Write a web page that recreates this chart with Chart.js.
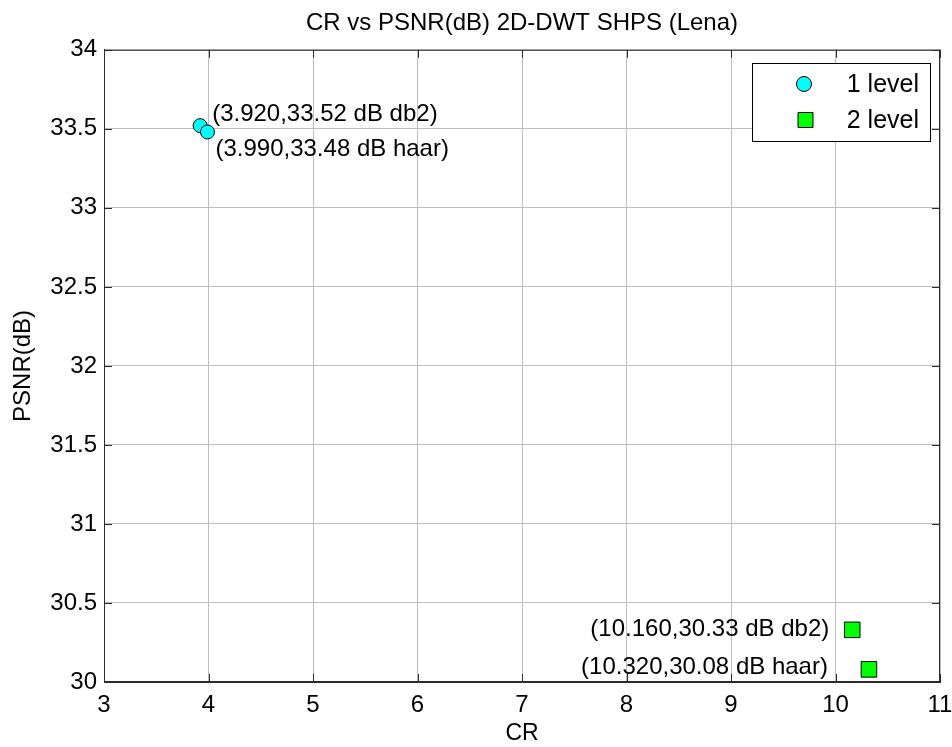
<!DOCTYPE html>
<html>
<head>
<meta charset="utf-8">
<title>CR vs PSNR</title>
<script src="https://cdn.jsdelivr.net/npm/chart.js@4/dist/chart.umd.min.js"></script>
<style>
  html, body { margin: 0; padding: 0; background: #fff; }
  #wrap { width: 952px; height: 747px; position: relative; }
</style>
</head>
<body>
<div id="wrap"><canvas id="chart"></canvas></div>
<script>
// 1-level decomposition results
const crLevel1 = [3.92, 3.99];
const psnrLevel1 = [33.52, 33.48];
const waveletLevel1 = ["db2", "haar"];

// 2-level decomposition results
const crLevel2 = [10.16, 10.32];
const psnrLevel2 = [30.33, 30.08];
const waveletLevel2 = ["db2", "haar"];

const seriesNames = ["1 level", "2 level"];
const xTicks = [3, 4, 5, 6, 7, 8, 9, 10, 11];
const yTicks = [30, 30.5, 31, 31.5, 32, 32.5, 33, 33.5, 34];

// where each point's text sits relative to its marker (pixels)
const labelPlacement = [
  [{ dx: 12, dy: -11, align: "left" }, { dx: 8, dy: 17, align: "left" }],
  [{ dx: -23, dy: 0, align: "right" }, { dx: -41, dy: -2, align: "right" }],
];

const FONT = "'Liberation Sans', Arial, sans-serif";
const toPoints = (xs, ys) => xs.map((x, i) => ({ x: x, y: ys[i] }));

// text beside points, inward ticks, top/right box and the legend
const annotatePlugin = {
  id: "annotate",
  afterDraw(chart) {
    const ctx = chart.ctx;
    const area = chart.chartArea;
    const xs = chart.scales.x;
    const ys = chart.scales.y;
    const wavelets = [waveletLevel1, waveletLevel2];

    ctx.save();
    // box
    ctx.strokeStyle = "#2b2b2b";
    ctx.lineWidth = 1;
    ctx.strokeRect(area.left + 0.5, area.top + 0.5, area.right - area.left - 1, area.bottom - area.top - 1);

    // tick marks pointing into the plot
    const tickLen = 8;
    ctx.beginPath();
    xTicks.forEach((v) => {
      const px = Math.round(xs.getPixelForValue(v)) + 0.5;
      ctx.moveTo(px, area.bottom);
      ctx.lineTo(px, area.bottom - tickLen);
      ctx.moveTo(px, area.top);
      ctx.lineTo(px, area.top + tickLen);
    });
    yTicks.forEach((v) => {
      const py = Math.round(ys.getPixelForValue(v)) + 0.5;
      ctx.moveTo(area.left, py);
      ctx.lineTo(area.left + tickLen, py);
      ctx.moveTo(area.right, py);
      ctx.lineTo(area.right - tickLen, py);
    });
    ctx.stroke();

    // point labels
    ctx.fillStyle = "#000";
    ctx.font = "24px " + FONT;
    ctx.textBaseline = "middle";
    chart.data.datasets.forEach((ds, di) => {
      ds.data.forEach((p, i) => {
        const place = labelPlacement[di][i];
        const px = xs.getPixelForValue(p.x);
        const py = ys.getPixelForValue(p.y);
        ctx.textAlign = place.align;
        const text = "(" + p.x.toFixed(3) + "," + p.y.toFixed(2) + " dB " + wavelets[di][i] + ")";
        ctx.fillText(text, px + place.dx, py + place.dy);
      });
    });

    // legend in the upper right corner
    const lx = 752, ly = 63, lw = 178, lh = 78;
    ctx.fillStyle = "#fff";
    ctx.fillRect(lx, ly, lw, lh);
    ctx.strokeStyle = "#000";
    ctx.strokeRect(lx + 0.5, ly + 0.5, lw, lh);
    ctx.font = "25px " + FONT;
    ctx.textAlign = "right";
    chart.data.datasets.forEach((ds, di) => {
      const cy = ly + 21 + di * 36;
      ctx.fillStyle = ds.backgroundColor;
      ctx.strokeStyle = ds.borderColor;
      ctx.lineWidth = 1;
      ctx.beginPath();
      if (ds.pointStyle === "rect") {
        ctx.rect(lx + 46, cy - 7.5, 15, 15);
      } else {
        ctx.arc(lx + 52, cy, 7.5, 0, Math.PI * 2);
      }
      ctx.fill();
      ctx.stroke();
      ctx.fillStyle = "#000";
      ctx.fillText(ds.label, lx + lw - 11, cy + 1);
    });
    ctx.restore();
  },
};

new Chart(document.getElementById("chart"), {
  type: "scatter",
  data: {
    datasets: [
      {
        label: seriesNames[0],
        data: toPoints(crLevel1, psnrLevel1),
        pointStyle: "circle",
        pointRadius: 7,
        pointHoverRadius: 7,
        backgroundColor: "#00ffff",
        borderColor: "#000000",
        borderWidth: 1,
      },
      {
        label: seriesNames[1],
        data: toPoints(crLevel2, psnrLevel2),
        pointStyle: "rect",
        pointRadius: 11,
        pointHoverRadius: 11,
        backgroundColor: "#00ff00",
        borderColor: "#000000",
        borderWidth: 1,
      },
    ],
  },
  options: {
    responsive: true,
    maintainAspectRatio: false,
    animation: false,
    layout: { padding: { left: 0, right: 0, top: 0, bottom: 0 } },
    plugins: {
      legend: { display: false },
      tooltip: { enabled: false },
      title: {
        display: true,
        fullSize: false,
        text: "CR vs PSNR(dB) 2D-DWT SHPS (Lena)",
        color: "#000",
        font: { family: FONT, size: 24, weight: "normal" },
        padding: { top: 9, bottom: 12 },
      },
    },
    scales: {
      x: {
        type: "linear",
        min: 3,
        max: 11,
        afterBuildTicks: (s) => { s.ticks = xTicks.map((v) => ({ value: v })); },
        afterFit: (s) => { s.height = 65; s.paddingRight = 12; },
        grid: { color: "#bdbdbd", drawTicks: false },
        border: { display: true, color: "#2b2b2b" },
        ticks: { color: "#000", padding: 9, font: { family: FONT, size: 24 }, callback: (v) => String(v) },
        title: { display: true, text: "CR", color: "#000", font: { family: FONT, size: 23 }, padding: { top: 0, bottom: 0 } },
      },
      y: {
        type: "linear",
        min: 30,
        max: 34,
        afterBuildTicks: (s) => { s.ticks = yTicks.map((v) => ({ value: v })); },
        afterFit: (s) => { s.width = 104; },
        grid: { color: "#bdbdbd", drawTicks: false },
        border: { display: true, color: "#2b2b2b" },
        ticks: { color: "#000", padding: 7, font: { family: FONT, size: 24 }, callback: (v) => String(v) },
        title: { display: true, text: "PSNR(dB)", color: "#000", font: { family: FONT, size: 24 }, padding: { top: 9, bottom: 0 } },
      },
    },
  },
  plugins: [annotatePlugin],
});
</script>
</body>
</html>
